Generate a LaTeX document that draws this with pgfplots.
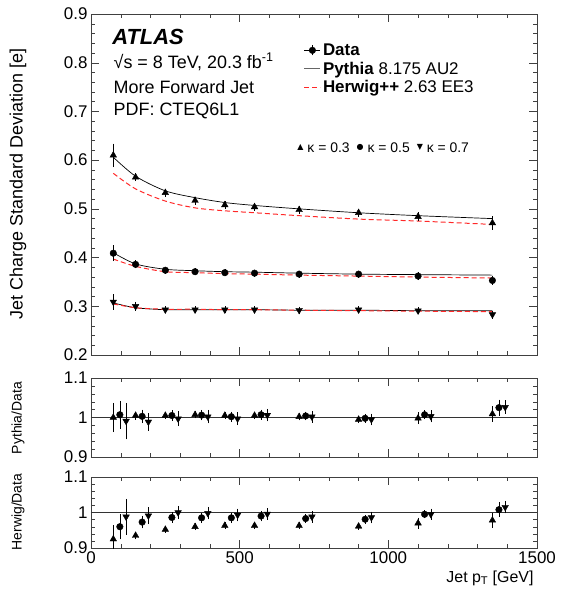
\documentclass[border=0pt]{standalone}
\usepackage{fontspec}
\setmainfont{Liberation Sans}
\newfontfamily\symfont{DejaVu Sans}
\usepackage{pgfplots}
\usepackage{pgfplotstable}
\pgfplotsset{compat=1.18}
\definecolor{hwred}{RGB}{255,40,40}

% main panel: data (d), stat. error (e), Pythia (py), Herwig (hw) per kappa
\pgfplotstableread{
pt   d3    e3    d5    e5    d7    e7    py3   hw3   py5   hw5   py7   hw7
75   0.610 0.020 0.409 0.012 0.309 0.012 0.606 0.573 0.410 0.397 0.307 0.305
150  0.565 0.004 0.386 0.004 0.300 0.005 0.567 0.541 0.387 0.382 0.297 0.297
250  0.533 0.004 0.374 0.003 0.293 0.003 0.537 0.516 0.376 0.371 0.293 0.294
350  0.517 0.004 0.371 0.003 0.293 0.003 0.523 0.502 0.373 0.369 0.293 0.294
450  0.508 0.004 0.369 0.003 0.293 0.003 0.513 0.496 0.371 0.367 0.293 0.293
550  0.504 0.004 0.368 0.003 0.293 0.003 0.507 0.492 0.370 0.366 0.293 0.293
700  0.498 0.004 0.366 0.003 0.292 0.003 0.500 0.486 0.368 0.364 0.292 0.292
900  0.492 0.004 0.366 0.003 0.293 0.003 0.492 0.479 0.366 0.362 0.292 0.291
1100 0.484 0.005 0.362 0.004 0.291 0.003 0.486 0.475 0.365 0.360 0.291 0.290
1350 0.471 0.010 0.353 0.005 0.283 0.004 0.480 0.468 0.364 0.358 0.291 0.289
}\maintab

\pgfplotstableread{
pt   r3    e3    r5    e5    r7    e7
75   1.000 0.032 1.007 0.030 0.991 0.041
150  1.005 0.005 1.003 0.012 0.989 0.017
250  1.005 0.004 1.005 0.008 0.997 0.014
350  1.007 0.004 1.006 0.008 1.002 0.012
450  1.005 0.004 1.002 0.008 0.997 0.011
550  1.005 0.004 1.007 0.008 1.006 0.011
700  1.002 0.004 1.004 0.006 1.002 0.010
900  0.995 0.004 0.998 0.006 0.995 0.010
1100 0.998 0.010 1.007 0.006 1.003 0.010
1350 1.009 0.015 1.025 0.015 1.026 0.012
}\pytab

\pgfplotstableread{
pt   r3    e3    r5    e5    r7    e7
75   0.925 0.033 0.960 0.030 0.988 0.045
150  0.935 0.005 0.973 0.012 0.991 0.018
250  0.952 0.004 0.986 0.009 1.000 0.013
350  0.960 0.004 0.985 0.009 0.998 0.012
450  0.963 0.004 0.985 0.009 0.993 0.012
550  0.963 0.004 0.990 0.009 0.996 0.011
700  0.963 0.004 0.983 0.007 0.988 0.011
900  0.961 0.004 0.981 0.007 0.986 0.011
1100 0.970 0.010 0.995 0.006 0.995 0.010
1350 0.978 0.015 1.008 0.015 1.015 0.012
}\hwtab

\pgfplotsset{
  atlas/.style={
    scale only axis, width=446bp,
    xmin=0, xmax=1500, xtick={0,500,1000,1500}, minor x tick num=4,
    tick align=inside, major tick length=8bp, minor tick length=4bp,
    axis line style={black!75}, every tick/.style={black!75},
    ticklabel style={font=\fontsize{17}{17}\selectfont},
    /pgf/number format/assume math mode=true,
    /pgf/number format/1000 sep={},
  },
  pyline/.style={black, line width=0.7pt, smooth},
  hwline/.style={hwred, line width=1pt, dash pattern=on 5bp off 3bp, smooth},
  tri/.style={only marks, black, mark=triangle*, mark size=3.8bp},
  circ/.style={only marks, black, mark=*, mark size=3.3bp},
  dtri/.style={only marks, black, mark=triangle*, mark size=3.8bp, mark options={rotate=180}},
  ebar/.style={error bars/.cd, y dir=both, y explicit, error mark options={black, mark size=2bp, line width=0.5pt}},
}

\begin{document}
\begin{tikzpicture}

% ---------- main panel ----------
\begin{axis}[atlas, at={(91bp,-14bp)}, anchor=north west, height=341bp,
  ymin=0.2, ymax=0.9, ytick={0.2,0.3,0.4,0.5,0.6,0.7,0.8,0.9}, minor y tick num=4,
  xticklabels={},
  legend cell align=left,
  legend style={at={(rel axis cs:0.47,0.925)}, anchor=north west, draw=none, fill=none,
    font=\fontsize{17}{19}\selectfont, row sep=1bp},
]
\addlegendimage{legend image code/.code={
  \draw[black] (0bp,0bp)--(16bp,0bp); \draw[black] (8bp,-5bp)--(8bp,5bp);
  \fill[black] (8bp,0bp) circle (3.3bp);}}
\addlegendentry{\textbf{Data}}
\addlegendimage{legend image code/.code={\draw[black!60, line width=0.7pt] (0bp,0bp)--(16bp,0bp);}}
\addlegendentry{\textbf{Pythia} 8.175 AU2}
\addlegendimage{legend image code/.code={\draw[hwred, line width=1.2pt, dash pattern=on 5bp off 3bp] (0bp,0bp)--(16bp,0bp);}}
\addlegendentry{\textbf{Herwig++} 2.63 EE3}

\addplot[forget plot, pyline] table[x=pt, y=py3]{\maintab};
\addplot[forget plot, hwline] table[x=pt, y=hw3]{\maintab};
\addplot[forget plot, pyline] table[x=pt, y=py5]{\maintab};
\addplot[forget plot, hwline] table[x=pt, y=hw5]{\maintab};
\addplot[forget plot, pyline] table[x=pt, y=py7]{\maintab};
\addplot[forget plot, hwline] table[x=pt, y=hw7]{\maintab};

\addplot[forget plot, tri, ebar] table[x=pt, y=d3, y error=e3]{\maintab};
\addplot[forget plot, circ, ebar] table[x=pt, y=d5, y error=e5]{\maintab};
\addplot[forget plot, dtri, ebar] table[x=pt, y=d7, y error=e7]{\maintab};

\node[anchor=west, font=\fontsize{22}{22}\selectfont\bfseries\itshape] at (rel axis cs:0.040,0.933) {ATLAS};
\node[anchor=west, font=\fontsize{18}{18}\selectfont] at (rel axis cs:0.043,0.860) {√s = 8 TeV, 20.3 fb\textsuperscript{-1}};
\node[anchor=west, font=\fontsize{18}{18}\selectfont] at (rel axis cs:0.043,0.786) {More Forward Jet};
\node[anchor=west, font=\fontsize{18}{18}\selectfont] at (rel axis cs:0.043,0.716) {PDF: CTEQ6L1};
\node[anchor=west, font=\fontsize{14}{14}\selectfont] at (rel axis cs:0.455,0.607)
  {\raisebox{3bp}{\symfont\fontsize{8}{8}\selectfont ▲} κ = 0.3\enspace
   \raisebox{3bp}{\symfont\fontsize{8}{8}\selectfont ●} κ = 0.5\enspace
   \raisebox{3bp}{\symfont\fontsize{8}{8}\selectfont ▼} κ = 0.7};
\end{axis}

% ---------- Pythia / Data ----------
\begin{axis}[atlas, at={(91bp,-378bp)}, anchor=north west, height=79bp,
  ymin=0.9, ymax=1.1, ytick={0.9,1,1.1}, minor y tick num=4, xticklabels={}]
\addplot[black!80, line width=0.7pt] coordinates {(0,1) (1500,1)};
\addplot[tri, ebar] table[x=pt, y=r3, y error=e3]{\pytab};
\addplot[circ, ebar] table[x expr=\thisrow{pt}+22, y=r5, y error=e5]{\pytab};
\addplot[dtri, ebar] table[x expr=\thisrow{pt}+43, y=r7, y error=e7]{\pytab};
\end{axis}

% ---------- Herwig / Data ----------
\begin{axis}[atlas, at={(91bp,-477bp)}, anchor=north west, height=71bp,
  ymin=0.9, ymax=1.1, ytick={0.9,1,1.1}, minor y tick num=4]
\addplot[black!80, line width=0.7pt] coordinates {(0,1) (1500,1)};
\addplot[tri, ebar] table[x=pt, y=r3, y error=e3]{\hwtab};
\addplot[circ, ebar] table[x expr=\thisrow{pt}+22, y=r5, y error=e5]{\hwtab};
\addplot[dtri, ebar] table[x expr=\thisrow{pt}+43, y=r7, y error=e7]{\hwtab};
\end{axis}

\node[rotate=90, font=\fontsize{18}{18}\selectfont] at (18bp,-184bp) {Jet Charge Standard Deviation [e]};
\node[rotate=90, font=\fontsize{14}{14}\selectfont] at (18bp,-418bp) {Pythia/Data};
\node[rotate=90, font=\fontsize{14}{14}\selectfont] at (18bp,-512bp) {Herwig/Data};
\node[anchor=east, font=\fontsize{16}{16}\selectfont] at (537bp,-578bp) {Jet p\textsubscript{T} [GeV]};

\pgfresetboundingbox
\path (0,0) rectangle (567bp,-591bp);
\end{tikzpicture}
\end{document}
